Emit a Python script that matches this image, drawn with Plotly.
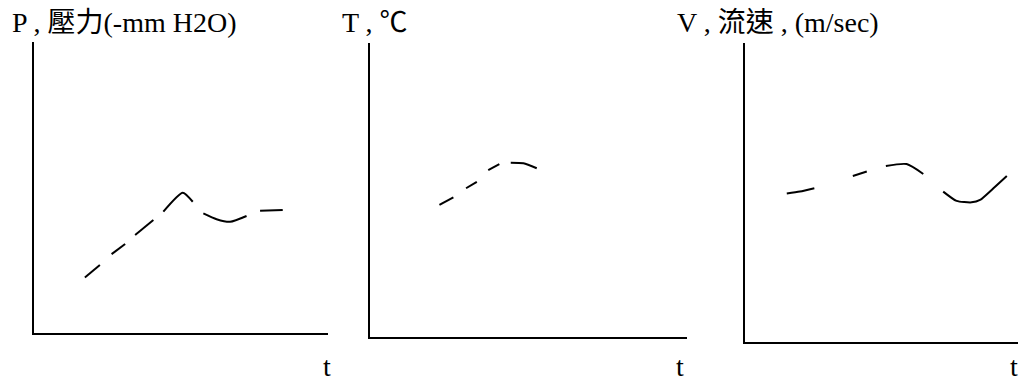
import plotly.graph_objects as go

# Panel titles and axis labels
titles = ["P , 壓力(-mm H2O)", "T , ℃", "V , 流速 , (m/sec)"]
t_label = "t"

# Panel 1: pressure curve (visible pieces separated by None)
p_x = [17.3, 22.4, None, 26.4, 31.0, None, 34.4, 40.6, None,
       44.0, 50.6, 54.0, None, 57.6, 62.1, 66.7, 72.3, None, 76.9, 84.6]
p_y = [19.1, 23.4, None, 27.1, 30.6, None, 33.7, 38.8, None,
       41.7, 48.2, 45.1, None, 41.1, 39.1, 38.2, 40.2, None, 42.0, 42.3]

# Panel 2: temperature curve
t_x = [21.9, 26.3, None, 30.3, 33.7, None, 37.3, 40.8, None, 44.4, 48.4, 52.6]
t_y = [44.9, 47.5, None, 50.6, 52.8, None, 56.8, 58.8, None, 59.3, 59.1, 57.4]

# Panel 3: velocity curve
v_x = [15.3, 20.1, 25.4, None, 39.5, 44.6, None, 51.6, 59.2, 65.3, None,
       72.6, 77.5, 83.0, 86.1, 91.0, 95.9]
v_y = [49.7, 50.3, 51.4, None, 55.5, 57.0, None, 58.9, 59.5, 56.2, None,
       50.3, 47.2, 46.7, 47.5, 51.4, 55.5]

W, H = 1020, 385
serif = "Liberation Serif, Noto Sans CJK TC, serif"

fig = go.Figure()
line = dict(color="black", width=2, shape="spline", smoothing=0.6)
fig.add_trace(go.Scatter(x=p_x, y=p_y, mode="lines", line=line, xaxis="x", yaxis="y", connectgaps=False))
fig.add_trace(go.Scatter(x=t_x, y=t_y, mode="lines", line=line, xaxis="x2", yaxis="y2", connectgaps=False))
fig.add_trace(go.Scatter(x=v_x, y=v_y, mode="lines", line=line, xaxis="x3", yaxis="y3", connectgaps=False))

def ax(domain, anchor):
    return dict(domain=domain, anchor=anchor, range=[0, 100], showline=True, linecolor="black",
                linewidth=2, showgrid=False, zeroline=False, showticklabels=False, ticks="",
                fixedrange=True)

layout = dict(
    width=W, height=H, margin=dict(l=0, r=0, t=0, b=0),
    paper_bgcolor="white", plot_bgcolor="white", showlegend=False,
    xaxis=ax([34 / W, 328 / W], "y"),
    yaxis=ax([1 - 333 / H, 1 - 42 / H], "x"),
    xaxis2=ax([370 / W, 687 / W], "y2"),
    yaxis2=ax([1 - 337 / H, 1 - 43 / H], "x2"),
    xaxis3=ax([745 / W, 1018 / W], "y3"),
    yaxis3=ax([1 - 342 / H, 1 - 43 / H], "x3"),
)
fig.update_layout(**layout)

title_x = [10, 340, 675]
for tx, txt in zip(title_x, titles):
    fig.add_annotation(x=tx / W, y=1 - 22 / H, xref="paper", yref="paper", text=txt,
                       showarrow=False, xanchor="left", yanchor="middle",
                       font=dict(family=serif, size=28, color="black"))

for lx in [327, 680, 1014]:
    fig.add_annotation(x=lx / W, y=1 - 366 / H, xref="paper", yref="paper", text=t_label,
                       showarrow=False, xanchor="center", yanchor="middle",
                       font=dict(family=serif, size=28, color="black"))

fig.write_html("out.html", config={"displayModeBar": False})
